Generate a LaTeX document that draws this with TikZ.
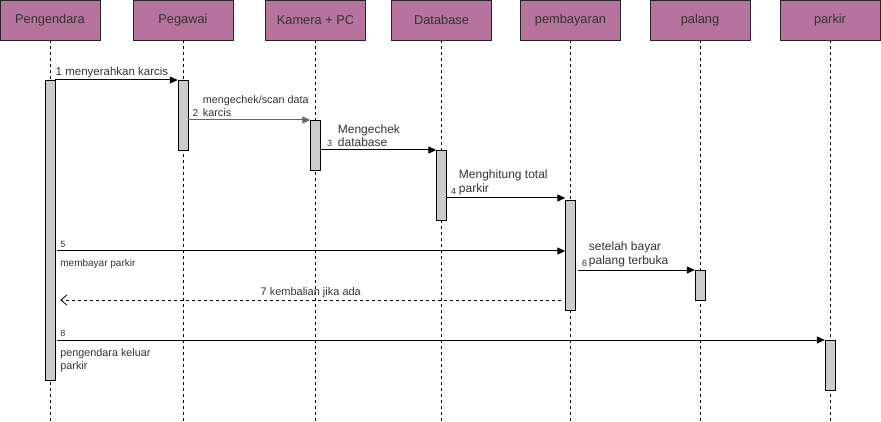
\documentclass[tikz,border=0pt]{standalone}
\usepackage{fontspec}
\setmainfont{Liberation Sans}
\usetikzlibrary{arrows.meta,calc}
\definecolor{actorfill}{HTML}{B5739D}
\definecolor{barfill}{HTML}{CCCCCC}
\definecolor{txt}{HTML}{333333}
\tikzset{
  actor/.style={draw=black!85, fill=actorfill, minimum width=100pt, minimum height=40pt,
                inner sep=0pt, text=txt, font=\fontsize{12.8}{14}\selectfont},
  bar/.style={draw, fill=barfill, minimum width=10pt, minimum height=#1, anchor=north, inner sep=0pt},
  life/.style={dash pattern=on 3pt off 3pt, line width=0.8pt},
  msg/.style={-{Triangle[length=8pt,width=7pt]}, line width=1pt},
  ret/.style={dash pattern=on 3pt off 3pt, line width=0.8pt, -{Straight Barb[length=6pt,width=10pt,line width=0.8pt]}},
  lab/.style={text=txt, align=left, inner sep=0pt, font=\fontsize{10.8}{13}\selectfont},
  biglab/.style={lab, font=\fontsize{12}{13.5}\selectfont},
  num/.style={text=txt, inner sep=0pt, font=\fontsize{9}{10}\selectfont}
}
\begin{document}
\begin{tikzpicture}[x=1pt, y=-1pt]
\useasboundingbox (0,0) rectangle (881,422);
% message rows
\def\ya{80} \def\yb{120} \def\yc{150} \def\yd{198} \def\ye{251} \def\yf{270} \def\yg{300} \def\yh{340}
\coordinate (bottom) at (0,422);
% participants and lifelines
\foreach \n/\x/\t in {peng/50/Pengendara, peg/183/Pegawai, kam/315.5/Kamera + PC, db/441.5/Database,
                      bayar/570.5/pembayaran, palang/700/palang, parkir/830/parkir}{
  \node[actor] (\n) at (\x,20) {\t};
  \draw[life] (\n.south) -- (\n.south |- bottom);
}
% activation bars
\node[bar=300pt] (apeng) at (peng |- 0,\ya) {};
\node[bar=70pt] (apeg) at (peg |- 0,\ya) {};
\node[bar=50pt] (akam) at (kam |- 0,\yb) {};
\node[bar=70pt] (adb) at (db |- 0,\yc) {};
\node[bar=110pt] (abayar) at (bayar |- 0,200) {};
\node[bar=30pt] (apalang) at (palang |- 0,\yf) {};
\node[bar=50pt] (aparkir) at (parkir |- 0,\yh) {};
% 1
\draw[msg] (apeng.north east) -- (apeg.north west)
  node[pos=0, anchor=south west, lab, font=\fontsize{11.5}{13}\selectfont, xshift=0pt, yshift=2pt] {1 menyerahkan karcis};
% 2
\draw[msg, draw=black!60] (apeg.east |- akam.north) -- (akam.north west)
  node[pos=0, anchor=south west, num, font=\fontsize{10}{11}\selectfont, xshift=4pt, yshift=3pt] (n2) {2};
\node[lab, anchor=south west] (t2) at ($(n2.south east)+(4,0)$) {mengechek/scan data\\karcis};
% 3
\draw[msg] (akam.east |- adb.north) -- (adb.north west)
  node[pos=0, anchor=south west, num, xshift=6pt, yshift=3pt] (n3) {3};
\node[biglab, anchor=south west] (t3) at ($(n3.south east)+(5,0)$) {Mengechek\\database};
% 4
\draw[msg] (adb.east |- 0,\yd) -- (abayar.west |- 0,\yd)
  node[pos=0, anchor=south west, num, xshift=4pt, yshift=3pt] (n4) {4};
\node[biglab, anchor=south west] (t4) at ($(n4.south east)+(2,0)$) {Menghitung total\\parkir};
% 5
\draw[msg] ($(apeng.east |- 0,\ye)+(2,0)$) coordinate (s5) -- (abayar.west |- 0,\ye);
\node[num, anchor=south west] (n5) at ($(s5)+(3,-3)$) {5};
\node[lab, font=\fontsize{10}{11}\selectfont, anchor=north west] (t5) at ($(s5)+(3,8)$) {membayar parkir};
% 6
\draw[msg] ($(abayar.east |- apalang.north)+(2,0)$) -- (apalang.north west)
  node[pos=0, anchor=south west, num, xshift=4pt, yshift=3pt] (n6) {6};
\node[biglab, anchor=south west] (t6) at ($(n6.south east)+(1,0)$) {setelah bayar\\palang terbuka};
% 7
\draw[ret] ($(abayar.west |- 0,\yg)+(-4,0)$) -- ($(apeng.east |- 0,\yg)+(5,0)$)
  node[midway, above, lab, font=\fontsize{11}{13}\selectfont, yshift=2pt] {7 kembalian jika ada};
% 8
\draw[msg] ($(apeng.east |- aparkir.north)+(2,0)$) coordinate (s8) -- (aparkir.north west);
\node[num, anchor=south west] (n8) at ($(s8)+(3,-3)$) {8};
\node[lab, anchor=north west] (t8) at ($(s8)+(3,8)$) {pengendara keluar\\parkir};
\end{tikzpicture}
\end{document}
